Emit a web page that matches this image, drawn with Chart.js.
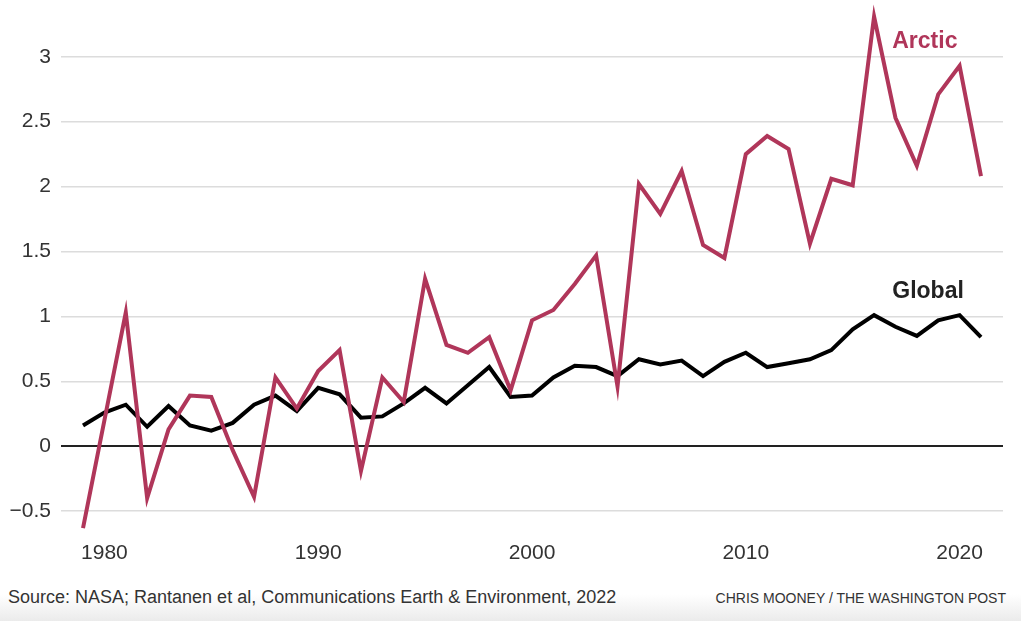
<!DOCTYPE html>
<html>
<head>
<meta charset="utf-8">
<script src="https://cdn.jsdelivr.net/npm/chart.js@4"></script>
<style>
  html, body { margin: 0; padding: 0; background: #fff; }
  body { width: 1021px; height: 621px; position: relative; overflow: hidden; font-family: "Liberation Sans", Arial, sans-serif; }
  #wrap { position: absolute; left: 0; top: 0; width: 1021px; height: 575px; }
  #foot { position: absolute; left: 0; top: 580px; width: 1021px; height: 41px;
          background: linear-gradient(#ffffff, #ffffff 35%, #ebebeb); }
  #source { position: absolute; left: 8px; top: 7px; font-size: 18px; color: #333; }
  #credit { position: absolute; right: 15px; top: 10px; font-size: 14px; color: #333; }
</style>
</head>
<body>
<div id="wrap"><canvas id="chart"></canvas></div>
<div id="foot">
  <div id="source">Source: NASA; Rantanen et al, Communications Earth &amp; Environment, 2022</div>
  <div id="credit">CHRIS MOONEY / THE WASHINGTON POST</div>
</div>
<script>
// years and temperature anomalies (°C)
const years = [1979, 1980, 1981, 1982, 1983, 1984, 1985, 1986, 1987, 1988, 1989,
  1990, 1991, 1992, 1993, 1994, 1995, 1996, 1997, 1998, 1999,
  2000, 2001, 2002, 2003, 2004, 2005, 2006, 2007, 2008, 2009,
  2010, 2011, 2012, 2013, 2014, 2015, 2016, 2017, 2018, 2019, 2020, 2021];

const arctic = [-0.63, 0.2, 1.03, -0.40, 0.13, 0.39, 0.38, -0.03, -0.39, 0.53, 0.29,
  0.58, 0.74, -0.19, 0.53, 0.34, 1.29, 0.78, 0.72, 0.84, 0.43,
  0.97, 1.05, 1.25, 1.47, 0.46, 2.02, 1.79, 2.12, 1.55, 1.45,
  2.25, 2.39, 2.29, 1.56, 2.06, 2.01, 3.31, 2.53, 2.16, 2.71, 2.93, 2.08];

const global = [0.16, 0.26, 0.32, 0.15, 0.31, 0.16, 0.12, 0.18, 0.32, 0.39, 0.27,
  0.45, 0.40, 0.22, 0.23, 0.33, 0.45, 0.33, 0.47, 0.61, 0.38,
  0.39, 0.53, 0.62, 0.61, 0.54, 0.67, 0.63, 0.66, 0.54, 0.65,
  0.72, 0.61, 0.64, 0.67, 0.74, 0.90, 1.01, 0.92, 0.85, 0.97, 1.01, 0.84];

const yTicks = [-0.5, 0, 0.5, 1, 1.5, 2, 2.5, 3];
const xTicks = [1980, 1990, 2000, 2010, 2020];

const seriesLabels = [
  { text: 'Arctic', x: 2016.85, y: 3.12, color: '#b0365a' },
  { text: 'Global', x: 2016.85, y: 1.19, color: '#222222' }
];

const ARCTIC_COLOR = '#b0365a';

// draws the series names inside the plot
const labelPlugin = {
  id: 'seriesLabels',
  afterDatasetsDraw(chart) {
    const ctx = chart.ctx;
    const xs = chart.scales.x, ys = chart.scales.y;
    ctx.save();
    ctx.font = 'bold 23px "Liberation Sans", Arial, sans-serif';
    ctx.textBaseline = 'middle';
    ctx.textAlign = 'left';
    seriesLabels.forEach(l => {
      ctx.fillStyle = l.color;
      ctx.fillText(l.text, xs.getPixelForValue(l.x), ys.getPixelForValue(l.y));
    });
    ctx.restore();
  }
};

const toPoints = vals => vals.map((v, i) => ({ x: years[i], y: v }));

new Chart(document.getElementById('chart'), {
  type: 'line',
  data: {
    datasets: [
      { label: 'Arctic', data: toPoints(arctic), borderColor: ARCTIC_COLOR, borderWidth: 4,
        pointRadius: 0, tension: 0, borderJoinStyle: 'miter', clip: false },
      { label: 'Global', data: toPoints(global), borderColor: '#000000', borderWidth: 4,
        pointRadius: 0, tension: 0, borderJoinStyle: 'miter', clip: false }
    ]
  },
  options: {
    responsive: true,
    maintainAspectRatio: false,
    animation: false,
    layout: { padding: { top: 10, right: 18, left: 0, bottom: 0 } },
    plugins: { legend: { display: false }, tooltip: { enabled: false } },
    scales: {
      x: {
        type: 'linear',
        min: 1977.97,
        max: 2022.03,
        afterBuildTicks: s => { s.ticks = xTicks.map(v => ({ value: v })); },
        afterFit: s => { s.height = 45; },
        grid: { display: false, drawTicks: false },
        border: { display: false },
        ticks: {
          padding: 11,
          color: '#333',
          font: { family: '"Liberation Sans", Arial, sans-serif', size: 21 },
          callback: v => String(v)
        }
      },
      y: {
        min: -0.645,
        max: 3.263,
        afterBuildTicks: s => { s.ticks = yTicks.map(v => ({ value: v })); },
        afterFit: s => { s.width = 61; },
        grid: {
          drawTicks: false,
          color: c => c.tick && c.tick.value === 0 ? '#222' : '#dcdcdc',
          lineWidth: c => c.tick && c.tick.value === 0 ? 2 : 1.5
        },
        border: { display: false },
        ticks: {
          padding: 10,
          color: '#333',
          font: { family: '"Liberation Sans", Arial, sans-serif', size: 21 },
          callback: v => v < 0 ? '\u2212' + Math.abs(v) : String(v)
        }
      }
    }
  },
  plugins: [labelPlugin]
});
</script>
</body>
</html>
